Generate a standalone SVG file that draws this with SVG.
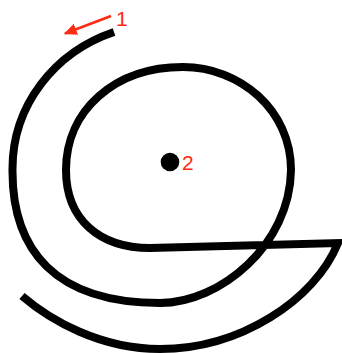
<svg xmlns="http://www.w3.org/2000/svg" width="342" height="353" viewBox="0 0 342 353">
  <defs>
    <style>
      .spiral { fill: none; stroke: #000; stroke-width: 8; stroke-linecap: butt; stroke-linejoin: miter; stroke-miterlimit: 10; }
      .red { fill: none; stroke: #ff2a12; stroke-width: 2.6; }
      .lbl { font-family: "Liberation Sans", Arial, sans-serif; font-size: 21px; fill: #ff2a12; }
    </style>
    <marker id="ah" viewBox="0 0 10 10" refX="9" refY="5" markerWidth="5" markerHeight="5" orient="auto" markerUnits="strokeWidth">
      <path d="M0,0.5 L10,5 L0,9.5 Z" fill="#ff2a12"/>
    </marker>
  </defs>
  <rect width="342" height="353" fill="#fff"/>
  <g id="spiral">
    <path class="spiral" d="M114,32 C55,52 12,105 12.5,170 C12,250 55,303 160,303 C220,303 290,245 291,170 C291,110 240,67 183,67 C115,67 66,110 66,170 C66,220 100,248 150,248 L338,243 C315,300 240,349 160,349 C100,349 50,320 22,296"/>
  </g>
  <g id="center">
    <circle cx="170" cy="162" r="9.3" fill="#000"/>
  </g>
  <g id="connectors">
    <line class="red" x1="111" y1="16" x2="65" y2="33.5" marker-end="url(#ah)"/>
  </g>
  <text class="lbl" x="116" y="26">1</text>
  <text class="lbl" x="182" y="170">2</text>
</svg>
